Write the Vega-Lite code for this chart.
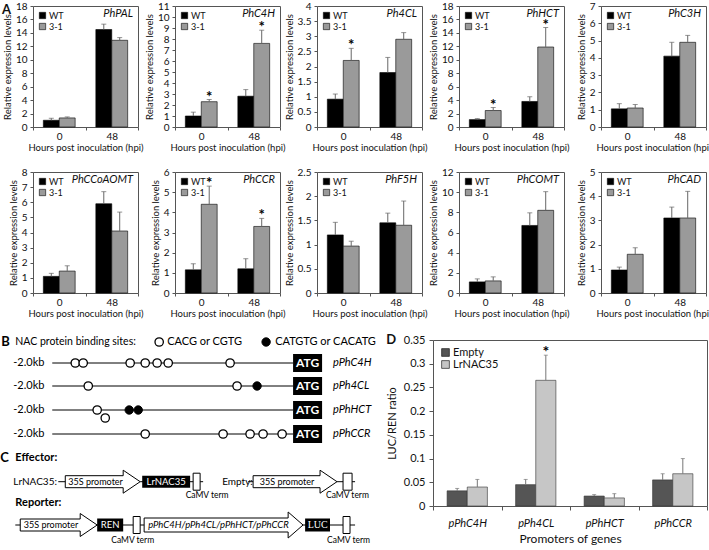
{
"$schema": "https://vega.github.io/schema/vega-lite/v6.json",
"padding": 0,
"background": "white",
"config": {
 "font": "Lato",
 "view": {"stroke": "#555", "strokeWidth": 1},
 "axis": {"grid": false, "domain": false, "labelFont": "Lato", "titleFont": "Lato", "labelFontSize": 10, "titleFontSize": 9.5, "titleFontWeight": "normal", "labelColor": "#111", "titleColor": "#111", "tickColor": "#555", "tickSize": 3},
 "axisX": {"labelPadding": 1, "titlePadding": 1},
 "axisY": {"labelPadding": 3, "titlePadding": 3, "format": "~g"},
 "legend": {"orient": "top-left", "offset": 5, "padding": 0, "labelFont": "Lato", "labelFontSize": 9, "labelColor": "#111", "symbolType": "square", "symbolSize": 40, "symbolStrokeColor": "#000", "symbolStrokeWidth": 0.6, "rowPadding": 1, "labelOffset": 2},
 "title": {"font": "Lato", "fontSize": 11, "fontStyle": "italic", "fontWeight": "normal", "anchor": "end", "frame": "group", "offset": -18, "dx": -5, "color": "#111"},
 "bar": {"stroke": "#000", "strokeWidth": 0.6}
},
"datasets": {
 "expr": [
  {"gene":"PhPAL","hpi":"0","line":"WT","mean":1.0,"top":1.3,"sig":""},
  {"gene":"PhPAL","hpi":"0","line":"3-1","mean":1.35,"top":1.5,"sig":""},
  {"gene":"PhPAL","hpi":"48","line":"WT","mean":14.5,"top":15.3,"sig":""},
  {"gene":"PhPAL","hpi":"48","line":"3-1","mean":12.9,"top":13.3,"sig":""},
  {"gene":"PhC4H","hpi":"0","line":"WT","mean":1.0,"top":1.35,"sig":""},
  {"gene":"PhC4H","hpi":"0","line":"3-1","mean":2.3,"top":2.5,"sig":"*"},
  {"gene":"PhC4H","hpi":"48","line":"WT","mean":2.8,"top":3.4,"sig":""},
  {"gene":"PhC4H","hpi":"48","line":"3-1","mean":7.6,"top":8.8,"sig":"*"},
  {"gene":"Ph4CL","hpi":"0","line":"WT","mean":0.92,"top":1.09,"sig":""},
  {"gene":"Ph4CL","hpi":"0","line":"3-1","mean":2.2,"top":2.6,"sig":"*"},
  {"gene":"Ph4CL","hpi":"48","line":"WT","mean":1.8,"top":2.3,"sig":""},
  {"gene":"Ph4CL","hpi":"48","line":"3-1","mean":2.9,"top":3.12,"sig":""},
  {"gene":"PhHCT","hpi":"0","line":"WT","mean":1.1,"top":1.25,"sig":""},
  {"gene":"PhHCT","hpi":"0","line":"3-1","mean":2.45,"top":2.9,"sig":"*"},
  {"gene":"PhHCT","hpi":"48","line":"WT","mean":3.8,"top":4.5,"sig":""},
  {"gene":"PhHCT","hpi":"48","line":"3-1","mean":11.9,"top":14.8,"sig":"*"},
  {"gene":"PhC3H","hpi":"0","line":"WT","mean":1.05,"top":1.35,"sig":""},
  {"gene":"PhC3H","hpi":"0","line":"3-1","mean":1.1,"top":1.3,"sig":""},
  {"gene":"PhC3H","hpi":"48","line":"WT","mean":4.1,"top":4.9,"sig":""},
  {"gene":"PhC3H","hpi":"48","line":"3-1","mean":4.9,"top":5.3,"sig":""},
  {"gene":"PhCCoAOMT","hpi":"0","line":"WT","mean":1.1,"top":1.3,"sig":""},
  {"gene":"PhCCoAOMT","hpi":"0","line":"3-1","mean":1.45,"top":1.8,"sig":""},
  {"gene":"PhCCoAOMT","hpi":"48","line":"WT","mean":5.9,"top":6.7,"sig":""},
  {"gene":"PhCCoAOMT","hpi":"48","line":"3-1","mean":4.1,"top":5.35,"sig":""},
  {"gene":"PhCCR","hpi":"0","line":"WT","mean":1.15,"top":1.45,"sig":""},
  {"gene":"PhCCR","hpi":"0","line":"3-1","mean":4.4,"top":5.3,"sig":"*"},
  {"gene":"PhCCR","hpi":"48","line":"WT","mean":1.2,"top":1.7,"sig":""},
  {"gene":"PhCCR","hpi":"48","line":"3-1","mean":3.3,"top":3.7,"sig":"*"},
  {"gene":"PhF5H","hpi":"0","line":"WT","mean":1.2,"top":1.46,"sig":""},
  {"gene":"PhF5H","hpi":"0","line":"3-1","mean":0.97,"top":1.07,"sig":""},
  {"gene":"PhF5H","hpi":"48","line":"WT","mean":1.45,"top":1.65,"sig":""},
  {"gene":"PhF5H","hpi":"48","line":"3-1","mean":1.4,"top":1.9,"sig":""},
  {"gene":"PhCOMT","hpi":"0","line":"WT","mean":1.1,"top":1.4,"sig":""},
  {"gene":"PhCOMT","hpi":"0","line":"3-1","mean":1.2,"top":1.6,"sig":""},
  {"gene":"PhCOMT","hpi":"48","line":"WT","mean":6.7,"top":7.95,"sig":""},
  {"gene":"PhCOMT","hpi":"48","line":"3-1","mean":8.2,"top":10.05,"sig":""},
  {"gene":"PhCAD","hpi":"0","line":"WT","mean":0.95,"top":1.07,"sig":""},
  {"gene":"PhCAD","hpi":"0","line":"3-1","mean":1.6,"top":1.87,"sig":""},
  {"gene":"PhCAD","hpi":"48","line":"WT","mean":3.1,"top":3.55,"sig":""},
  {"gene":"PhCAD","hpi":"48","line":"3-1","mean":3.1,"top":4.2,"sig":""}
 ],
 "luc": [
  {"promoter":"pPhC4H","effector":"Empty","mean":0.032,"top":0.037,"sig":""},
  {"promoter":"pPhC4H","effector":"LrNAC35","mean":0.04,"top":0.056,"sig":""},
  {"promoter":"pPh4CL","effector":"Empty","mean":0.045,"top":0.056,"sig":""},
  {"promoter":"pPh4CL","effector":"LrNAC35","mean":0.265,"top":0.318,"sig":"*"},
  {"promoter":"pPhHCT","effector":"Empty","mean":0.021,"top":0.024,"sig":""},
  {"promoter":"pPhHCT","effector":"LrNAC35","mean":0.017,"top":0.026,"sig":""},
  {"promoter":"pPhCCR","effector":"Empty","mean":0.055,"top":0.068,"sig":""},
  {"promoter":"pPhCCR","effector":"LrNAC35","mean":0.068,"top":0.1,"sig":""}
 ],
 "segs": [
  {"x":-2.0,"x2":0,"y":2.3},{"x":-2.0,"x2":0,"y":4.6},{"x":-2.0,"x2":0,"y":7.0},{"x":-2.0,"x2":0,"y":9.4},
  {"x":-1.95,"x2":-1.892,"y":14.17},{"x":-1.27,"x2":-0.747,"y":14.17},
  {"x":-0.373,"x2":-0.332,"y":14.17},{"x":0.365,"x2":0.515,"y":14.17},
  {"x":-2.307,"x2":-2.266,"y":18.5},{"x":-1.627,"x2":-1.237,"y":18.5},{"x":0.083,"x2":0.515,"y":18.5}
 ],
 "arrows": [
  {"id":"E1","o":1,"x":-1.892,"y":13.57},{"id":"E1","o":2,"x":-1.411,"y":13.57},{"id":"E1","o":3,"x":-1.411,"y":13.02},{"id":"E1","o":4,"x":-1.27,"y":14.17},{"id":"E1","o":5,"x":-1.411,"y":15.32},{"id":"E1","o":6,"x":-1.411,"y":14.77},{"id":"E1","o":7,"x":-1.892,"y":14.77},{"id":"E1","o":8,"x":-1.892,"y":13.57},
  {"id":"E2","o":1,"x":-0.332,"y":13.57},{"id":"E2","o":2,"x":0.224,"y":13.57},{"id":"E2","o":3,"x":0.224,"y":13.02},{"id":"E2","o":4,"x":0.365,"y":14.17},{"id":"E2","o":5,"x":0.224,"y":15.32},{"id":"E2","o":6,"x":0.224,"y":14.77},{"id":"E2","o":7,"x":-0.332,"y":14.77},{"id":"E2","o":8,"x":-0.332,"y":13.57},
  {"id":"R1","o":1,"x":-2.266,"y":17.9},{"id":"R1","o":2,"x":-1.768,"y":17.9},{"id":"R1","o":3,"x":-1.768,"y":17.35},{"id":"R1","o":4,"x":-1.627,"y":18.5},{"id":"R1","o":5,"x":-1.768,"y":19.65},{"id":"R1","o":6,"x":-1.768,"y":19.1},{"id":"R1","o":7,"x":-2.266,"y":19.1},{"id":"R1","o":8,"x":-2.266,"y":17.9},
  {"id":"R2","o":1,"x":-1.237,"y":17.8},{"id":"R2","o":2,"x":-0.041,"y":17.8},{"id":"R2","o":3,"x":-0.041,"y":17.2},{"id":"R2","o":4,"x":0.083,"y":18.5},{"id":"R2","o":5,"x":-0.041,"y":19.8},{"id":"R2","o":6,"x":-0.041,"y":19.2},{"id":"R2","o":7,"x":-1.237,"y":19.2},{"id":"R2","o":8,"x":-1.237,"y":17.8}
 ],
 "boxes": [
  {"kind":"black","x":0,"x2":0.241,"y":1.4,"y2":3.2},
  {"kind":"black","x":0,"x2":0.241,"y":3.7,"y2":5.5},
  {"kind":"black","x":0,"x2":0.241,"y":6.1,"y2":7.9},
  {"kind":"black","x":0,"x2":0.241,"y":8.5,"y2":10.3},
  {"kind":"black","x":-1.253,"x2":-0.855,"y":13.57,"y2":14.77},
  {"kind":"black","x":-1.627,"x2":-1.411,"y":17.85,"y2":19.15},
  {"kind":"black","x":0.1,"x2":0.307,"y":17.85,"y2":19.15},
  {"kind":"white","x":-0.83,"x2":-0.772,"y":13.32,"y2":15.02},
  {"kind":"white","x":0.415,"x2":0.49,"y":13.32,"y2":15.02},
  {"kind":"white","x":-1.328,"x2":-1.27,"y":17.65,"y2":19.35},
  {"kind":"white","x":0.415,"x2":0.473,"y":17.65,"y2":19.35}
 ],
 "sites": [
  {"kind":"open","x":-1.112,"y":0.2},
  {"kind":"filled","x":-0.224,"y":0.2},
  {"kind":"open","x":-1.809,"y":2.3},{"kind":"open","x":-1.743,"y":2.3},{"kind":"open","x":-1.353,"y":2.3},{"kind":"open","x":-1.228,"y":2.3},{"kind":"open","x":-1.129,"y":2.3},{"kind":"open","x":-1.037,"y":2.3},{"kind":"open","x":-0.523,"y":2.3},
  {"kind":"open","x":-1.701,"y":4.6},{"kind":"open","x":-0.465,"y":4.6},{"kind":"filled","x":-0.299,"y":4.6},
  {"kind":"open","x":-1.627,"y":7.0},{"kind":"open","x":-1.56,"y":7.8},{"kind":"filled","x":-1.361,"y":7.0},{"kind":"filled","x":-1.286,"y":7.0},
  {"kind":"open","x":-1.228,"y":9.4},{"kind":"open","x":-0.581,"y":9.4},{"kind":"open","x":-0.357,"y":9.4},{"kind":"open","x":-0.249,"y":9.4},{"kind":"open","x":-0.091,"y":9.4}
 ],
 "labels": [
  {"s":"h13b","x":-2.423,"y":0.2,"t":"B"},
  {"s":"h13b","x":-2.432,"y":11.8,"t":"C"},
  {"s":"h11b","x":-2.307,"y":11.8,"t":"Effector:"},
  {"s":"h11b","x":-2.307,"y":16.3,"t":"Reporter:"},
  {"s":"n105","x":-2.307,"y":0.2,"t":"NAC protein binding sites:"},
  {"s":"n11","x":-1.046,"y":0.2,"t":"CACG or CGTG"},
  {"s":"n11","x":-0.149,"y":0.2,"t":"CATGTG or CACATG"},
  {"s":"n11","x":-2.324,"y":2.3,"t":"-2.0kb"},
  {"s":"n11","x":-2.324,"y":4.6,"t":"-2.0kb"},
  {"s":"n11","x":-2.324,"y":7.0,"t":"-2.0kb"},
  {"s":"n11","x":-2.324,"y":9.4,"t":"-2.0kb"},
  {"s":"n10","x":-2.324,"y":14.17,"t":"LrNAC35:"},
  {"s":"n10","x":-0.589,"y":14.17,"t":"Empty:"},
  {"s":"i11","x":0.332,"y":2.3,"t":"pPhC4H"},
  {"s":"i11","x":0.332,"y":4.6,"t":"pPh4CL"},
  {"s":"i11","x":0.332,"y":7.0,"t":"pPhHCT"},
  {"s":"i11","x":0.332,"y":9.4,"t":"pPhCCR"},
  {"s":"atg","x":0.1205,"y":2.3,"t":"ATG"},
  {"s":"atg","x":0.1205,"y":4.6,"t":"ATG"},
  {"s":"atg","x":0.1205,"y":7.0,"t":"ATG"},
  {"s":"atg","x":0.1205,"y":9.4,"t":"ATG"},
  {"s":"w10","x":-1.054,"y":14.17,"t":"LrNAC35"},
  {"s":"w10","x":-1.519,"y":18.5,"t":"REN"},
  {"s":"w10s","x":0.204,"y":18.5,"t":"LUC"},
  {"s":"c10","x":-1.64,"y":14.17,"t":"35S promoter"},
  {"s":"c10","x":-0.05,"y":14.17,"t":"35S promoter"},
  {"s":"c10","x":-2.01,"y":18.5,"t":"35S promoter"},
  {"s":"ci10","x":-0.62,"y":18.5,"t":"pPhC4H/pPh4CL/pPhHCT/pPhCCR"},
  {"s":"c8","x":-0.714,"y":15.5,"t":"CaMV term"},
  {"s":"c8","x":0.452,"y":15.5,"t":"CaMV term"},
  {"s":"c8","x":-1.332,"y":20.0,"t":"CaMV term"},
  {"s":"c8","x":0.461,"y":20.0,"t":"CaMV term"}
 ]
},
"spacing": 15,
"resolve": {"scale": {"fill": "independent", "xOffset": "independent", "x": "independent", "y": "independent"}, "legend": {"fill": "independent"}},
"vconcat": [
 {
  "spacing": 14,
  "resolve": {"scale": {"fill": "independent", "xOffset": "independent", "x": "independent", "y": "independent"}, "legend": {"fill": "independent"}},
  "vconcat": [
   {
    "title": {"text": "A", "anchor": "start", "frame": "bounds", "offset": -16, "dx": 0, "fontStyle": "normal", "fontWeight": "bold", "fontSize": 13},
    "bounds": "flush",
    "spacing": 37,
    "resolve": {"scale": {"fill": "independent", "xOffset": "independent", "x": "independent", "y": "independent"}, "legend": {"fill": "independent"}},
    "hconcat": [
     {"title": "PhPAL", "width": 105, "height": 121, "data": {"name": "expr"}, "transform": [{"filter": "datum.gene == 'PhPAL'"}],
      "encoding": {"x": {"field": "hpi", "type": "nominal", "sort": ["0","48"], "title": "Hours post inoculation (hpi)", "scale": {"paddingInner": 0, "paddingOuter": 0}, "axis": {"labelAngle": 0, "tickBand": "extent"}},
       "xOffset": {"field": "line", "type": "nominal", "sort": ["WT","3-1"], "scale": {"paddingInner": 0, "paddingOuter": 0.65}},
       "y": {"field": "top", "type": "quantitative", "title": "Relative expression levels", "scale": {"domain": [0,18], "nice": false}, "axis": {"values": [0,2,4,6,8,10,12,14,16,18]}}},
      "layer": [
       {"mark": "bar", "encoding": {"y": {"field": "mean", "type": "quantitative", "title": "Relative expression levels"}, "fill": {"field": "line", "type": "nominal", "sort": ["WT","3-1"], "scale": {"range": ["#000000","#9a9a9a"]}, "legend": {"title": null}}}},
       {"mark": {"type": "rule", "color": "#666"}, "encoding": {"y2": {"field": "mean"}}},
       {"mark": {"type": "tick", "color": "#666", "size": 5, "thickness": 1}},
       {"transform": [{"filter": "datum.sig == '*'"}], "mark": {"type": "text", "fontSize": 15, "fontWeight": "bold", "baseline": "alphabetic", "dy": 2, "color": "#000"}, "encoding": {"text": {"field": "sig"}}}
      ]},
     {"title": "PhC4H", "width": 105, "height": 121, "data": {"name": "expr"}, "transform": [{"filter": "datum.gene == 'PhC4H'"}],
      "encoding": {"x": {"field": "hpi", "type": "nominal", "sort": ["0","48"], "title": "Hours post inoculation (hpi)", "scale": {"paddingInner": 0, "paddingOuter": 0}, "axis": {"labelAngle": 0, "tickBand": "extent"}},
       "xOffset": {"field": "line", "type": "nominal", "sort": ["WT","3-1"], "scale": {"paddingInner": 0, "paddingOuter": 0.65}},
       "y": {"field": "top", "type": "quantitative", "title": "Relative expression levels", "scale": {"domain": [0,11], "nice": false}, "axis": {"values": [0,1,2,3,4,5,6,7,8,9,10,11]}}},
      "layer": [
       {"mark": "bar", "encoding": {"y": {"field": "mean", "type": "quantitative", "title": "Relative expression levels"}, "fill": {"field": "line", "type": "nominal", "sort": ["WT","3-1"], "scale": {"range": ["#000000","#9a9a9a"]}, "legend": {"title": null}}}},
       {"mark": {"type": "rule", "color": "#666"}, "encoding": {"y2": {"field": "mean"}}},
       {"mark": {"type": "tick", "color": "#666", "size": 5, "thickness": 1}},
       {"transform": [{"filter": "datum.sig == '*'"}], "mark": {"type": "text", "fontSize": 15, "fontWeight": "bold", "baseline": "alphabetic", "dy": 2, "color": "#000"}, "encoding": {"text": {"field": "sig"}}}
      ]},
     {"title": "Ph4CL", "width": 105, "height": 121, "data": {"name": "expr"}, "transform": [{"filter": "datum.gene == 'Ph4CL'"}],
      "encoding": {"x": {"field": "hpi", "type": "nominal", "sort": ["0","48"], "title": "Hours post inoculation (hpi)", "scale": {"paddingInner": 0, "paddingOuter": 0}, "axis": {"labelAngle": 0, "tickBand": "extent"}},
       "xOffset": {"field": "line", "type": "nominal", "sort": ["WT","3-1"], "scale": {"paddingInner": 0, "paddingOuter": 0.65}},
       "y": {"field": "top", "type": "quantitative", "title": "Relative expression levels", "scale": {"domain": [0,4], "nice": false}, "axis": {"values": [0,0.5,1,1.5,2,2.5,3,3.5,4]}}},
      "layer": [
       {"mark": "bar", "encoding": {"y": {"field": "mean", "type": "quantitative", "title": "Relative expression levels"}, "fill": {"field": "line", "type": "nominal", "sort": ["WT","3-1"], "scale": {"range": ["#000000","#9a9a9a"]}, "legend": {"title": null}}}},
       {"mark": {"type": "rule", "color": "#666"}, "encoding": {"y2": {"field": "mean"}}},
       {"mark": {"type": "tick", "color": "#666", "size": 5, "thickness": 1}},
       {"transform": [{"filter": "datum.sig == '*'"}], "mark": {"type": "text", "fontSize": 15, "fontWeight": "bold", "baseline": "alphabetic", "dy": 2, "color": "#000"}, "encoding": {"text": {"field": "sig"}}}
      ]},
     {"title": "PhHCT", "width": 105, "height": 121, "data": {"name": "expr"}, "transform": [{"filter": "datum.gene == 'PhHCT'"}],
      "encoding": {"x": {"field": "hpi", "type": "nominal", "sort": ["0","48"], "title": "Hours post inoculation (hpi)", "scale": {"paddingInner": 0, "paddingOuter": 0}, "axis": {"labelAngle": 0, "tickBand": "extent"}},
       "xOffset": {"field": "line", "type": "nominal", "sort": ["WT","3-1"], "scale": {"paddingInner": 0, "paddingOuter": 0.65}},
       "y": {"field": "top", "type": "quantitative", "title": "Relative expression levels", "scale": {"domain": [0,18], "nice": false}, "axis": {"values": [0,2,4,6,8,10,12,14,16,18]}}},
      "layer": [
       {"mark": "bar", "encoding": {"y": {"field": "mean", "type": "quantitative", "title": "Relative expression levels"}, "fill": {"field": "line", "type": "nominal", "sort": ["WT","3-1"], "scale": {"range": ["#000000","#9a9a9a"]}, "legend": {"title": null}}}},
       {"mark": {"type": "rule", "color": "#666"}, "encoding": {"y2": {"field": "mean"}}},
       {"mark": {"type": "tick", "color": "#666", "size": 5, "thickness": 1}},
       {"transform": [{"filter": "datum.sig == '*'"}], "mark": {"type": "text", "fontSize": 15, "fontWeight": "bold", "baseline": "alphabetic", "dy": 2, "color": "#000"}, "encoding": {"text": {"field": "sig"}}}
      ]},
     {"title": "PhC3H", "width": 105, "height": 121, "data": {"name": "expr"}, "transform": [{"filter": "datum.gene == 'PhC3H'"}],
      "encoding": {"x": {"field": "hpi", "type": "nominal", "sort": ["0","48"], "title": "Hours post inoculation (hpi)", "scale": {"paddingInner": 0, "paddingOuter": 0}, "axis": {"labelAngle": 0, "tickBand": "extent"}},
       "xOffset": {"field": "line", "type": "nominal", "sort": ["WT","3-1"], "scale": {"paddingInner": 0, "paddingOuter": 0.65}},
       "y": {"field": "top", "type": "quantitative", "title": "Relative expression levels", "scale": {"domain": [0,7], "nice": false}, "axis": {"values": [0,1,2,3,4,5,6,7]}}},
      "layer": [
       {"mark": "bar", "encoding": {"y": {"field": "mean", "type": "quantitative", "title": "Relative expression levels"}, "fill": {"field": "line", "type": "nominal", "sort": ["WT","3-1"], "scale": {"range": ["#000000","#9a9a9a"]}, "legend": {"title": null}}}},
       {"mark": {"type": "rule", "color": "#666"}, "encoding": {"y2": {"field": "mean"}}},
       {"mark": {"type": "tick", "color": "#666", "size": 5, "thickness": 1}},
       {"transform": [{"filter": "datum.sig == '*'"}], "mark": {"type": "text", "fontSize": 15, "fontWeight": "bold", "baseline": "alphabetic", "dy": 2, "color": "#000"}, "encoding": {"text": {"field": "sig"}}}
      ]}
    ]
   },
   {
    "bounds": "flush",
    "spacing": 37,
    "resolve": {"scale": {"fill": "independent", "xOffset": "independent", "x": "independent", "y": "independent"}, "legend": {"fill": "independent"}},
    "hconcat": [
     {"title": "PhCCoAOMT", "width": 105, "height": 121, "data": {"name": "expr"}, "transform": [{"filter": "datum.gene == 'PhCCoAOMT'"}],
      "encoding": {"x": {"field": "hpi", "type": "nominal", "sort": ["0","48"], "title": "Hours post inoculation (hpi)", "scale": {"paddingInner": 0, "paddingOuter": 0}, "axis": {"labelAngle": 0, "tickBand": "extent"}},
       "xOffset": {"field": "line", "type": "nominal", "sort": ["WT","3-1"], "scale": {"paddingInner": 0, "paddingOuter": 0.65}},
       "y": {"field": "top", "type": "quantitative", "title": "Relative expression levels", "scale": {"domain": [0,8], "nice": false}, "axis": {"values": [0,1,2,3,4,5,6,7,8]}}},
      "layer": [
       {"mark": "bar", "encoding": {"y": {"field": "mean", "type": "quantitative", "title": "Relative expression levels"}, "fill": {"field": "line", "type": "nominal", "sort": ["WT","3-1"], "scale": {"range": ["#000000","#9a9a9a"]}, "legend": {"title": null}}}},
       {"mark": {"type": "rule", "color": "#666"}, "encoding": {"y2": {"field": "mean"}}},
       {"mark": {"type": "tick", "color": "#666", "size": 5, "thickness": 1}},
       {"transform": [{"filter": "datum.sig == '*'"}], "mark": {"type": "text", "fontSize": 15, "fontWeight": "bold", "baseline": "alphabetic", "dy": 2, "color": "#000"}, "encoding": {"text": {"field": "sig"}}}
      ]},
     {"title": "PhCCR", "width": 105, "height": 121, "data": {"name": "expr"}, "transform": [{"filter": "datum.gene == 'PhCCR'"}],
      "encoding": {"x": {"field": "hpi", "type": "nominal", "sort": ["0","48"], "title": "Hours post inoculation (hpi)", "scale": {"paddingInner": 0, "paddingOuter": 0}, "axis": {"labelAngle": 0, "tickBand": "extent"}},
       "xOffset": {"field": "line", "type": "nominal", "sort": ["WT","3-1"], "scale": {"paddingInner": 0, "paddingOuter": 0.65}},
       "y": {"field": "top", "type": "quantitative", "title": "Relative expression levels", "scale": {"domain": [0,6], "nice": false}, "axis": {"values": [0,1,2,3,4,5,6]}}},
      "layer": [
       {"mark": "bar", "encoding": {"y": {"field": "mean", "type": "quantitative", "title": "Relative expression levels"}, "fill": {"field": "line", "type": "nominal", "sort": ["WT","3-1"], "scale": {"range": ["#000000","#9a9a9a"]}, "legend": {"title": null}}}},
       {"mark": {"type": "rule", "color": "#666"}, "encoding": {"y2": {"field": "mean"}}},
       {"mark": {"type": "tick", "color": "#666", "size": 5, "thickness": 1}},
       {"transform": [{"filter": "datum.sig == '*'"}], "mark": {"type": "text", "fontSize": 15, "fontWeight": "bold", "baseline": "alphabetic", "dy": 2, "color": "#000"}, "encoding": {"text": {"field": "sig"}}}
      ]},
     {"title": "PhF5H", "width": 105, "height": 121, "data": {"name": "expr"}, "transform": [{"filter": "datum.gene == 'PhF5H'"}],
      "encoding": {"x": {"field": "hpi", "type": "nominal", "sort": ["0","48"], "title": "Hours post inoculation (hpi)", "scale": {"paddingInner": 0, "paddingOuter": 0}, "axis": {"labelAngle": 0, "tickBand": "extent"}},
       "xOffset": {"field": "line", "type": "nominal", "sort": ["WT","3-1"], "scale": {"paddingInner": 0, "paddingOuter": 0.65}},
       "y": {"field": "top", "type": "quantitative", "title": "Relative expression levels", "scale": {"domain": [0,2.5], "nice": false}, "axis": {"values": [0,0.5,1,1.5,2,2.5]}}},
      "layer": [
       {"mark": "bar", "encoding": {"y": {"field": "mean", "type": "quantitative", "title": "Relative expression levels"}, "fill": {"field": "line", "type": "nominal", "sort": ["WT","3-1"], "scale": {"range": ["#000000","#9a9a9a"]}, "legend": {"title": null}}}},
       {"mark": {"type": "rule", "color": "#666"}, "encoding": {"y2": {"field": "mean"}}},
       {"mark": {"type": "tick", "color": "#666", "size": 5, "thickness": 1}},
       {"transform": [{"filter": "datum.sig == '*'"}], "mark": {"type": "text", "fontSize": 15, "fontWeight": "bold", "baseline": "alphabetic", "dy": 2, "color": "#000"}, "encoding": {"text": {"field": "sig"}}}
      ]},
     {"title": "PhCOMT", "width": 105, "height": 121, "data": {"name": "expr"}, "transform": [{"filter": "datum.gene == 'PhCOMT'"}],
      "encoding": {"x": {"field": "hpi", "type": "nominal", "sort": ["0","48"], "title": "Hours post inoculation (hpi)", "scale": {"paddingInner": 0, "paddingOuter": 0}, "axis": {"labelAngle": 0, "tickBand": "extent"}},
       "xOffset": {"field": "line", "type": "nominal", "sort": ["WT","3-1"], "scale": {"paddingInner": 0, "paddingOuter": 0.65}},
       "y": {"field": "top", "type": "quantitative", "title": "Relative expression levels", "scale": {"domain": [0,12], "nice": false}, "axis": {"values": [0,2,4,6,8,10,12]}}},
      "layer": [
       {"mark": "bar", "encoding": {"y": {"field": "mean", "type": "quantitative", "title": "Relative expression levels"}, "fill": {"field": "line", "type": "nominal", "sort": ["WT","3-1"], "scale": {"range": ["#000000","#9a9a9a"]}, "legend": {"title": null}}}},
       {"mark": {"type": "rule", "color": "#666"}, "encoding": {"y2": {"field": "mean"}}},
       {"mark": {"type": "tick", "color": "#666", "size": 5, "thickness": 1}},
       {"transform": [{"filter": "datum.sig == '*'"}], "mark": {"type": "text", "fontSize": 15, "fontWeight": "bold", "baseline": "alphabetic", "dy": 2, "color": "#000"}, "encoding": {"text": {"field": "sig"}}}
      ]},
     {"title": "PhCAD", "width": 105, "height": 121, "data": {"name": "expr"}, "transform": [{"filter": "datum.gene == 'PhCAD'"}],
      "encoding": {"x": {"field": "hpi", "type": "nominal", "sort": ["0","48"], "title": "Hours post inoculation (hpi)", "scale": {"paddingInner": 0, "paddingOuter": 0}, "axis": {"labelAngle": 0, "tickBand": "extent"}},
       "xOffset": {"field": "line", "type": "nominal", "sort": ["WT","3-1"], "scale": {"paddingInner": 0, "paddingOuter": 0.65}},
       "y": {"field": "top", "type": "quantitative", "title": "Relative expression levels", "scale": {"domain": [0,5], "nice": false}, "axis": {"values": [0,1,2,3,4,5]}}},
      "layer": [
       {"mark": "bar", "encoding": {"y": {"field": "mean", "type": "quantitative", "title": "Relative expression levels"}, "fill": {"field": "line", "type": "nominal", "sort": ["WT","3-1"], "scale": {"range": ["#000000","#9a9a9a"]}, "legend": {"title": null}}}},
       {"mark": {"type": "rule", "color": "#666"}, "encoding": {"y2": {"field": "mean"}}},
       {"mark": {"type": "tick", "color": "#666", "size": 5, "thickness": 1}},
       {"transform": [{"filter": "datum.sig == '*'"}], "mark": {"type": "text", "fontSize": 15, "fontWeight": "bold", "baseline": "alphabetic", "dy": 2, "color": "#000"}, "encoding": {"text": {"field": "sig"}}}
      ]}
    ]
   }
  ]
 },
 {
  "bounds": "flush",
  "spacing": 40,
  "resolve": {"scale": {"fill": "independent", "xOffset": "independent", "x": "independent", "y": "independent"}, "legend": {"fill": "independent"}},
  "hconcat": [
   {
    "width": 360, "height": 205,
    "view": {"stroke": null},
    "encoding": {
     "x": {"field": "x", "type": "quantitative", "scale": {"domain": [-2.16, 0.83], "nice": false, "zero": false}, "axis": null},
     "y": {"field": "y", "type": "quantitative", "scale": {"domain": [0, 20.5], "nice": false, "zero": false, "reverse": true}, "axis": null}
    },
    "layer": [
     {"data": {"name": "segs"}, "mark": {"type": "rule", "color": "#000", "strokeWidth": 1}, "encoding": {"x2": {"field": "x2"}}},
     {"data": {"name": "arrows"}, "mark": {"type": "line", "color": "#000", "strokeWidth": 1, "strokeJoin": "miter"}, "encoding": {"detail": {"field": "id"}, "order": {"field": "o"}}},
     {"data": {"name": "boxes"}, "transform": [{"filter": "datum.kind == 'black'"}], "mark": {"type": "rect", "fill": "#000", "stroke": null}, "encoding": {"x2": {"field": "x2"}, "y2": {"field": "y2"}}},
     {"data": {"name": "boxes"}, "transform": [{"filter": "datum.kind == 'white'"}], "mark": {"type": "rect", "fill": "#fff", "stroke": "#000", "strokeWidth": 1}, "encoding": {"x2": {"field": "x2"}, "y2": {"field": "y2"}}},
     {"data": {"name": "sites"}, "transform": [{"filter": "datum.kind == 'open'"}], "mark": {"type": "point", "shape": "circle", "filled": true, "fill": "#fff", "stroke": "#000", "strokeWidth": 1.3, "size": 70, "opacity": 1}},
     {"data": {"name": "sites"}, "transform": [{"filter": "datum.kind == 'filled'"}], "mark": {"type": "point", "shape": "circle", "filled": true, "fill": "#000", "stroke": "#000", "strokeWidth": 1, "size": 70, "opacity": 1}},
     {"data": {"name": "labels"}, "transform": [{"filter": "datum.s == 'h13b'"}], "mark": {"type": "text", "align": "left", "baseline": "middle", "fontSize": 13, "fontWeight": "bold", "font": "Lato", "color": "#000"}, "encoding": {"text": {"field": "t"}}},
     {"data": {"name": "labels"}, "transform": [{"filter": "datum.s == 'h11b'"}], "mark": {"type": "text", "align": "left", "baseline": "middle", "fontSize": 11, "fontWeight": "bold", "font": "Lato", "color": "#000"}, "encoding": {"text": {"field": "t"}}},
     {"data": {"name": "labels"}, "transform": [{"filter": "datum.s == 'n105'"}], "mark": {"type": "text", "align": "left", "baseline": "middle", "fontSize": 10.5, "font": "Lato", "color": "#000"}, "encoding": {"text": {"field": "t"}}},
     {"data": {"name": "labels"}, "transform": [{"filter": "datum.s == 'n11'"}], "mark": {"type": "text", "align": "left", "baseline": "middle", "fontSize": 11, "font": "Lato", "color": "#000"}, "encoding": {"text": {"field": "t"}}},
     {"data": {"name": "labels"}, "transform": [{"filter": "datum.s == 'n10'"}], "mark": {"type": "text", "align": "left", "baseline": "middle", "fontSize": 10, "font": "Lato", "color": "#000"}, "encoding": {"text": {"field": "t"}}},
     {"data": {"name": "labels"}, "transform": [{"filter": "datum.s == 'i11'"}], "mark": {"type": "text", "align": "left", "baseline": "middle", "fontSize": 11, "fontStyle": "italic", "font": "Lato", "color": "#000"}, "encoding": {"text": {"field": "t"}}},
     {"data": {"name": "labels"}, "transform": [{"filter": "datum.s == 'atg'"}], "mark": {"type": "text", "align": "center", "baseline": "middle", "fontSize": 12, "fontWeight": "bold", "font": "Lato", "color": "#fff"}, "encoding": {"text": {"field": "t"}}},
     {"data": {"name": "labels"}, "transform": [{"filter": "datum.s == 'w10'"}], "mark": {"type": "text", "align": "center", "baseline": "middle", "fontSize": 9.5, "font": "Lato", "color": "#fff"}, "encoding": {"text": {"field": "t"}}},
     {"data": {"name": "labels"}, "transform": [{"filter": "datum.s == 'w10s'"}], "mark": {"type": "text", "align": "center", "baseline": "middle", "fontSize": 10, "font": "Liberation Serif", "color": "#fff"}, "encoding": {"text": {"field": "t"}}},
     {"data": {"name": "labels"}, "transform": [{"filter": "datum.s == 'c10'"}], "mark": {"type": "text", "align": "center", "baseline": "middle", "fontSize": 9, "font": "Lato", "color": "#000"}, "encoding": {"text": {"field": "t"}}},
     {"data": {"name": "labels"}, "transform": [{"filter": "datum.s == 'ci10'"}], "mark": {"type": "text", "align": "center", "baseline": "middle", "fontSize": 9.5, "fontStyle": "italic", "font": "Lato", "color": "#000"}, "encoding": {"text": {"field": "t"}}},
     {"data": {"name": "labels"}, "transform": [{"filter": "datum.s == 'c8'"}], "mark": {"type": "text", "align": "center", "baseline": "middle", "fontSize": 8.5, "font": "Lato", "color": "#000"}, "encoding": {"text": {"field": "t"}}}
    ]
   },
   {
    "title": {"text": "D", "anchor": "start", "frame": "bounds", "offset": -13, "dx": 0, "fontStyle": "normal", "fontWeight": "bold", "fontSize": 13},
    "width": 274, "height": 166,
    "data": {"name": "luc"},
    "encoding": {
     "x": {"field": "promoter", "type": "nominal", "sort": ["pPhC4H","pPh4CL","pPhHCT","pPhCCR"], "title": "Promoters of genes", "scale": {"paddingInner": 0, "paddingOuter": 0}, "axis": {"labelAngle": 0, "tickBand": "extent", "labelFontStyle": "italic", "labelFontSize": 11, "titleFontSize": 12, "labelPadding": 7, "titlePadding": 5, "tickSize": 4}},
     "y": {"field": "top", "type": "quantitative", "title": "LUC/REN ratio", "scale": {"domain": [0, 0.35], "nice": false}, "axis": {"values": [0,0.05,0.1,0.15,0.2,0.25,0.3,0.35], "labelFontSize": 11, "titleFontSize": 11, "tickSize": 4, "labelPadding": 4, "titlePadding": 6}}
    },
    "layer": [
     {"mark": {"type": "bar", "stroke": "#333"}, "encoding": {"xOffset": {"field": "effector", "type": "nominal", "sort": ["Empty","LrNAC35"], "scale": {"paddingInner": 0, "paddingOuter": 0.7}}, "y": {"field": "mean", "type": "quantitative", "title": "LUC/REN ratio"}, "fill": {"field": "effector", "type": "nominal", "sort": ["Empty","LrNAC35"], "scale": {"range": ["#555555","#c6c6c6"]}, "legend": {"title": null, "labelFontSize": 11, "symbolSize": 60, "offset": 7, "rowPadding": 0}}}},
     {"mark": {"type": "rule", "color": "#777"}, "encoding": {"xOffset": {"field": "effector", "type": "nominal", "sort": ["Empty","LrNAC35"]}, "y2": {"field": "mean"}}},
     {"mark": {"type": "tick", "color": "#777", "size": 4, "thickness": 1}, "encoding": {"xOffset": {"field": "effector", "type": "nominal", "sort": ["Empty","LrNAC35"]}}},
     {"transform": [{"filter": "datum.sig == '*'"}], "mark": {"type": "text", "fontSize": 16, "fontWeight": "bold", "baseline": "alphabetic", "dy": 2, "color": "#000"}, "encoding": {"xOffset": {"field": "effector", "type": "nominal", "sort": ["Empty","LrNAC35"]}, "text": {"field": "sig"}}},
     {"data": {"values": [{}]}, "mark": {"type": "rule", "color": "#000", "strokeWidth": 1}, "encoding": {"x": {"datum": "pPhC4H", "bandPosition": 0.12}, "x2": {"datum": "pPhCCR", "bandPosition": 0.88}, "y": {"datum": -0.047}}}
    ]
   }
  ]
 }
]
}
